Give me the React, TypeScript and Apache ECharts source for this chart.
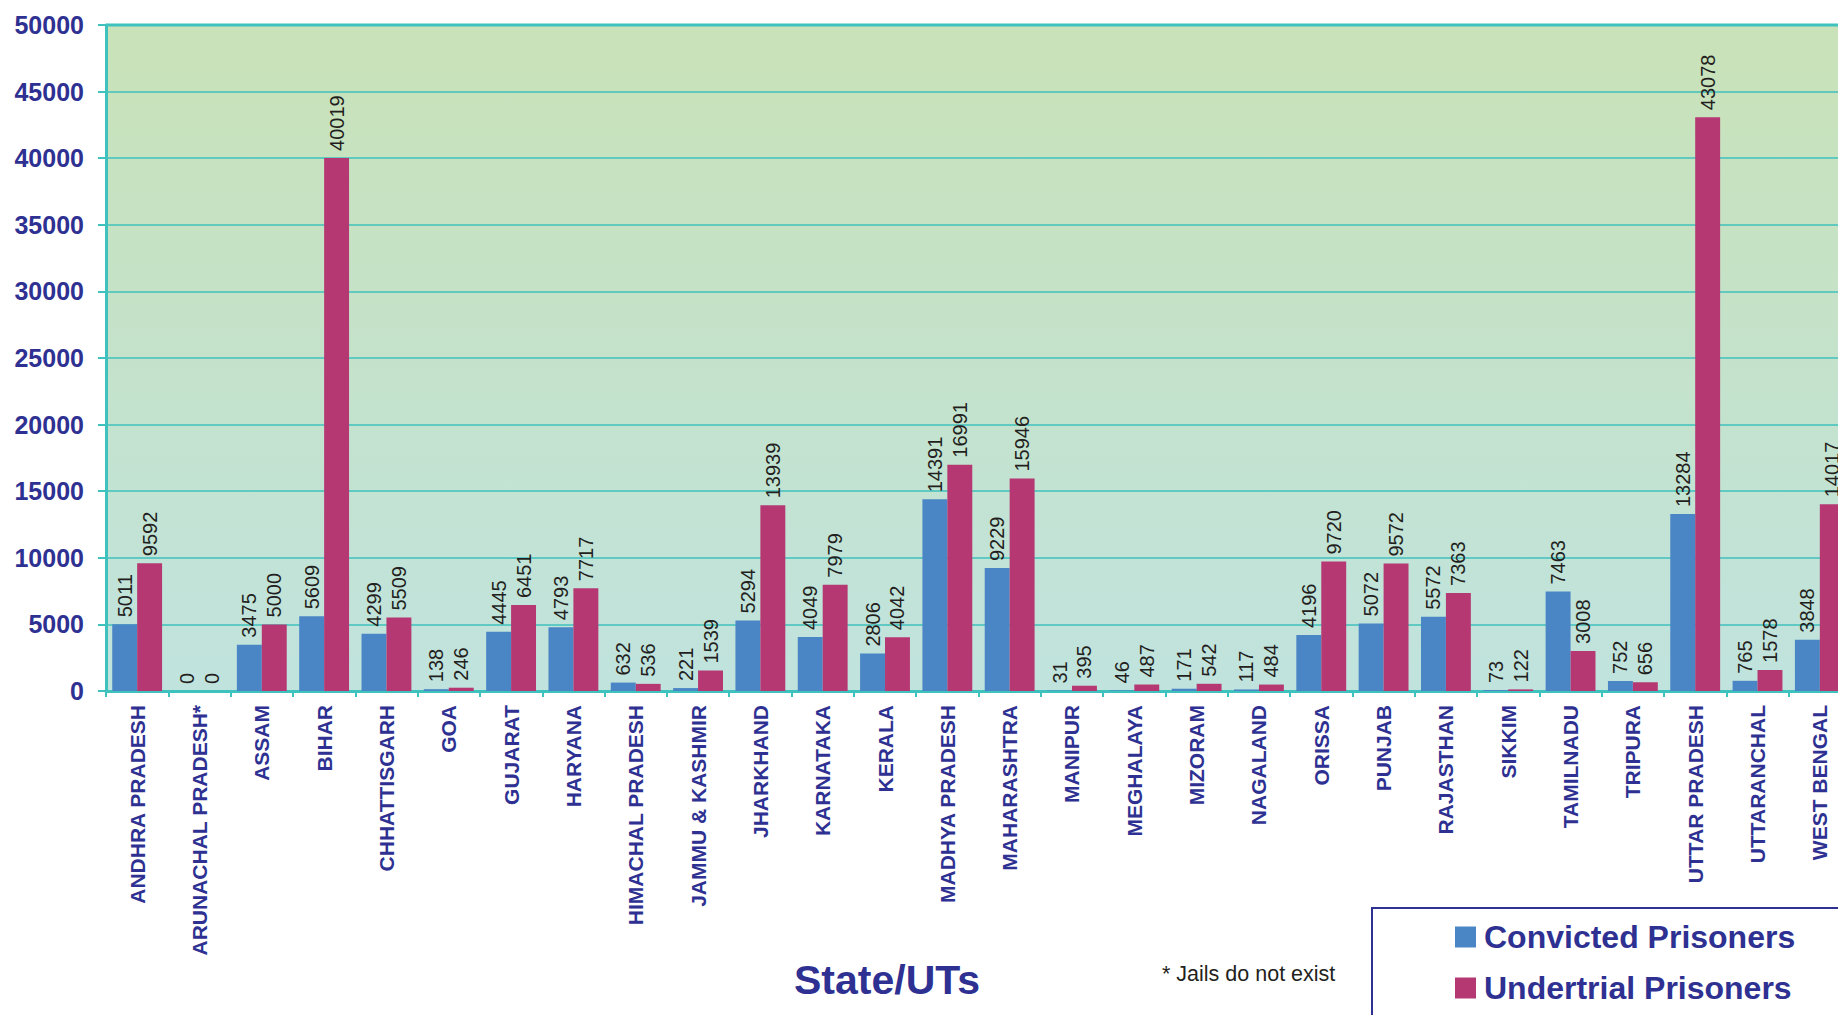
import React, { useEffect, useRef } from "react";
import * as echarts from "echarts";

const categories = [
  "ANDHRA PRADESH", "ARUNACHAL PRADESH*", "ASSAM", "BIHAR", "CHHATTISGARH", "GOA",
  "GUJARAT", "HARYANA", "HIMACHAL PRADESH", "JAMMU & KASHMIR", "JHARKHAND", "KARNATAKA",
  "KERALA", "MADHYA PRADESH", "MAHARASHTRA", "MANIPUR", "MEGHALAYA", "MIZORAM",
  "NAGALAND", "ORISSA", "PUNJAB", "RAJASTHAN", "SIKKIM", "TAMILNADU", "TRIPURA",
  "UTTAR PRADESH", "UTTARANCHAL", "WEST BENGAL",
];

const convicted = [
  5011, 0, 3475, 5609, 4299, 138, 4445, 4793, 632, 221, 5294, 4049, 2806, 14391, 9229,
  31, 46, 171, 117, 4196, 5072, 5572, 73, 7463, 752, 13284, 765, 3848,
];

const undertrial = [
  9592, 0, 5000, 40019, 5509, 246, 6451, 7717, 536, 1539, 13939, 7979, 4042, 16991, 15946,
  395, 487, 542, 484, 9720, 9572, 7363, 122, 3008, 656, 43078, 1578, 14017,
];

const seriesNames = ["Convicted Prisoners", "Undertrial Prisoners"];

const NAVY = "#2e3192";
const TEAL = "#3fc1bd";
const FONT = "'Liberation Sans', Arial, sans-serif";

export default function App() {
  const ref = useRef<HTMLDivElement>(null);
  useEffect(() => {
    if (!ref.current) return;
    const chart = echarts.init(ref.current, undefined, { renderer: "svg" });
    const dataLabel = {
      show: true,
      position: "top",
      rotate: 90,
      align: "left",
      verticalAlign: "middle",
      distance: 7,
      fontSize: 20,
      color: "#231f20",
      fontFamily: FONT,
    };
    chart.setOption({
      animation: false,
      backgroundColor: "#ffffff",
      textStyle: { fontFamily: FONT },
      grid: {
        left: 106,
        top: 25,
        right: 0,
        bottom: 324,
        show: true,
        borderWidth: 0,
        backgroundColor: new echarts.graphic.LinearGradient(0, 0, 0, 1, [
          { offset: 0, color: "#c9e2b8" },
          { offset: 1, color: "#c0e3de" },
        ]),
      },
      legend: {
        orient: "vertical",
        left: 1455,
        top: 921,
        padding: 0,
        itemWidth: 21,
        itemHeight: 21,
        itemGap: 19,
        icon: "rect",
        data: seriesNames,
        textStyle: {
          fontSize: 32,
          fontWeight: "bold",
          color: NAVY,
          fontFamily: FONT,
          padding: [0, 0, 0, 3],
        },
      },
      xAxis: {
        type: "category",
        data: categories,
        axisLine: { lineStyle: { color: TEAL, width: 3 } },
        axisTick: { show: true, length: 6, lineStyle: { color: TEAL, width: 2 } },
        axisLabel: {
          interval: 0,
          rotate: 90,
          margin: 14,
          fontSize: 21,
          fontWeight: "bold",
          color: NAVY,
          fontFamily: FONT,
        },
      },
      yAxis: {
        type: "value",
        min: 0,
        max: 50000,
        interval: 5000,
        axisLine: { show: true, lineStyle: { color: TEAL, width: 3 } },
        axisTick: { show: true, length: 8, lineStyle: { color: TEAL, width: 2 } },
        axisLabel: {
          margin: 22,
          fontSize: 25,
          fontWeight: "bold",
          color: NAVY,
          fontFamily: FONT,
          formatter: (v: number) => String(v),
        },
        splitLine: { show: true, lineStyle: { color: TEAL, width: 1.5 } },
      },
      series: [
        {
          name: seriesNames[0],
          type: "bar",
          data: convicted,
          barGap: "0%",
          barCategoryGap: "20%",
          itemStyle: { color: "#4a86c6" },
          label: dataLabel,
        },
        {
          name: seriesNames[1],
          type: "bar",
          data: undertrial,
          barGap: "0%",
          barCategoryGap: "20%",
          itemStyle: { color: "#b53872" },
          label: dataLabel,
        },
      ],
      graphic: [
        {
          type: "line",
          shape: { x1: 106, y1: 25, x2: 1851, y2: 25 },
          style: { stroke: TEAL, lineWidth: 3 },
          z: 10,
        },
        {
          type: "rect",
          shape: { x: 1372, y: 908, width: 520, height: 200 },
          style: { fill: "#ffffff", stroke: NAVY, lineWidth: 2 },
          z: 0,
        },
        {
          type: "text",
          x: 794,
          y: 980,
          style: {
            text: "State/UTs",
            fontSize: 41,
            fontWeight: "bold",
            fill: NAVY,
            fontFamily: FONT,
            verticalAlign: "middle",
          },
        },
        {
          type: "text",
          x: 1162,
          y: 974,
          style: {
            text: "* Jails do not exist",
            fontSize: 21.5,
            fill: "#231f20",
            fontFamily: FONT,
            verticalAlign: "middle",
          },
        },
      ],
    });
    return () => chart.dispose();
  }, []);
  return (
    <div style={{ position: "fixed", left: 0, top: 0, width: 1838, height: 1015, overflow: "hidden" }}>
      <div ref={ref} style={{ width: 1851, height: 1015 }} />
    </div>
  );
}
